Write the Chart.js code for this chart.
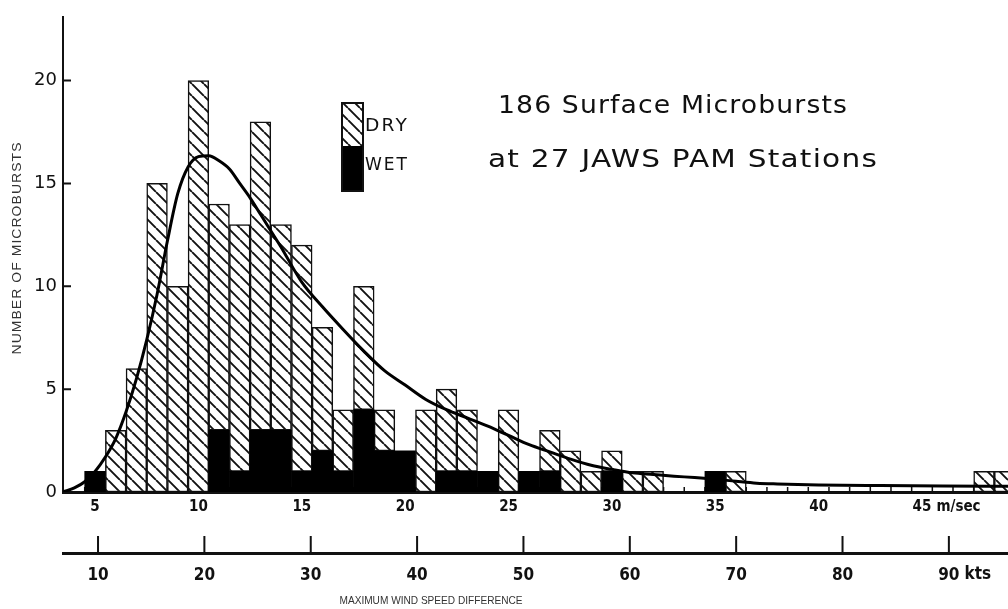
<!DOCTYPE html>
<html>
<head>
<meta charset="utf-8">
<title>Surface Microbursts</title>
<script src="https://cdn.jsdelivr.net/npm/chart.js@4.4.1/dist/chart.umd.min.js"></script>
<style>
  html, body { margin: 0; padding: 0; background: #fff; }
  #wrap { width: 1008px; height: 609px; position: relative; }
</style>
</head>
<body>
<div id="wrap"><canvas id="c" width="1008" height="609"></canvas></div>
<script>
// Maximum wind speed difference, 1 m/s bins (bin centres)
const windSpeedMs = [5, 6, 7, 8, 9, 10, 11, 12, 13, 14, 15, 16, 17, 18, 19, 20, 21, 22, 23, 24, 25, 26, 27,
  28, 29, 30, 31, 32, 33, 34, 35, 36, 37, 38, 39, 40, 41, 42, 43, 44, 45, 46, 47, 48, 49];
// Microbursts per bin, wet and dry
const wetCounts = [1, 0, 0, 0, 0, 0, 3, 1, 3, 3, 1, 2, 1, 4, 2, 2, 0, 1, 1, 1, 0, 1, 1,
  0, 0, 1, 0, 0, 0, 0, 1, 0, 0, 0, 0, 0, 0, 0, 0, 0, 0, 0, 0, 0, 0];
const dryCounts = [0, 3, 6, 15, 10, 20, 11, 12, 15, 10, 11, 6, 3, 6, 2, 0, 4, 4, 3, 0, 4, 0, 2,
  2, 1, 1, 1, 1, 0, 0, 0, 1, 0, 0, 0, 0, 0, 0, 0, 0, 0, 0, 0, 1, 1];

// Fitted frequency curve
const fitSpeedMs = [3.45, 4.0, 4.5, 5.0, 5.5, 6.0, 6.5, 7.0, 7.5, 8.0, 8.5, 9.0, 9.5, 10.0, 10.5, 11.0, 11.5,
  12.0, 12.5, 13.0, 13.5, 14.0, 15.0, 16.0, 17.0, 18.0, 19.0, 20.0, 21.0, 22.0, 23.0, 24.0, 25.0, 26.0,
  27.0, 28.0, 29.0, 30.0, 31.0, 32.0, 33.0, 34.0, 35.0, 36.0, 37.0, 38.0, 40.0, 43.0, 46.0, 49.2];
const fitCounts = [0.0, 0.2, 0.5, 1.0, 1.7, 2.6, 3.9, 5.5, 7.4, 9.6, 12.2, 14.5, 15.8, 16.3, 16.35, 16.1, 15.7,
  15.0, 14.3, 13.5, 12.7, 11.9, 10.2, 9.0, 7.9, 6.85, 5.9, 5.2, 4.5, 4.0, 3.6, 3.2, 2.75, 2.3,
  1.95, 1.6, 1.3, 1.1, 0.93, 0.85, 0.77, 0.70, 0.62, 0.52, 0.43, 0.39, 0.34, 0.31, 0.29, 0.28];

// Axis ticks
const yTicks = [0, 5, 10, 15, 20];
const msTicks = [5, 10, 15, 20, 25, 30, 35, 40, 45];
const ktsTicks = [10, 20, 30, 40, 50, 60, 70, 80, 90];
const binEdgesMs = [];
for (let i = 0; i < windSpeedMs.length; i++) binEdgesMs.push(windSpeedMs[i] - 0.5);
binEdgesMs.push(windSpeedMs[windSpeedMs.length - 1] + 0.5);

const MS_PER_KT = 0.514444;
const X_MIN = 3.45, X_MAX = 49.16;

const titleLines = ['186 Surface Microbursts', 'at 27 JAWS PAM Stations'];

const canvas = document.getElementById('c');
const ctx = canvas.getContext('2d');

function makeHatch(target) {
  const s = 12;
  const c = document.createElement('canvas');
  c.width = s; c.height = s;
  const g = c.getContext('2d');
  g.fillStyle = '#ffffff';
  g.fillRect(0, 0, s, s);
  g.strokeStyle = '#111111';
  g.lineWidth = 1.9;
  g.beginPath();
  for (let k = -1; k <= 1; k++) { g.moveTo(k * s, 0); g.lineTo(k * s + s, s); }
  g.stroke();
  return target.createPattern(c, 'repeat');
}
const hatch = makeHatch(ctx);

function fitText(g, text, cx, cy, width, font, spacing) {
  g.save();
  g.font = font;
  g.letterSpacing = (spacing || 0) + 'px';
  const w = g.measureText(text).width;
  g.translate(cx, cy);
  g.scale(width / w, 1);
  g.textAlign = 'center';
  g.textBaseline = 'middle';
  g.fillText(text, 0, 0);
  g.restore();
}

const NARROW = '"Liberation Sans Narrow", "DejaVu Sans Condensed", "Liberation Sans", sans-serif';

const decorations = {
  id: 'decorations',
  beforeDatasetsDraw(chart) {
    const g = chart.ctx;
    const x = chart.scales.x;
    g.save();
    g.strokeStyle = '#111';
    g.lineWidth = 1.5;
    g.beginPath();
    // bin boundary marks along the m/s axis
    binEdgesMs.forEach(v => {
      const px = x.getPixelForValue(v);
      if (px < chart.chartArea.left || px > chart.chartArea.right) return;
      g.moveTo(px, x.top); g.lineTo(px, x.top - 5);
    });
    g.stroke();
    g.restore();
  },
  afterDraw(chart) {
    const g = chart.ctx;
    const x = chart.scales.x, x2 = chart.scales.x2, y = chart.scales.y;
    const area = chart.chartArea;
    g.save();
    g.fillStyle = '#111';
    g.strokeStyle = '#111';

    // inner tick marks on the count axis
    g.lineWidth = 2;
    g.beginPath();
    yTicks.forEach(v => {
      if (v === 0) return;
      const py = y.getPixelForValue(v);
      g.moveTo(area.left, py); g.lineTo(area.left + 8, py);
    });
    g.stroke();

    // upward tick marks on the knots axis
    g.lineWidth = 2;
    g.beginPath();
    ktsTicks.forEach(k => {
      const px = x2.getPixelForValue(k * MS_PER_KT);
      g.moveTo(px, x2.top); g.lineTo(px, x2.top - 17);
    });
    g.stroke();

    // unit suffixes
    g.textBaseline = 'middle';
    g.textAlign = 'left';
    g.font = 'bold 15px ' + NARROW;
    const last = msTicks[msTicks.length - 1];
    const lw = g.measureText(String(last)).width;
    g.fillText('m/sec', x.getPixelForValue(last) + lw / 2 + 5, 507);
    g.font = 'bold 17px ' + NARROW;
    const lastK = ktsTicks[ktsTicks.length - 1];
    const kw = g.measureText(String(lastK)).width;
    g.fillText('kts', x2.getPixelForValue(lastK * MS_PER_KT) + kw / 2 + 5, 575);

    // axis titles
    g.fillStyle = '#333';
    fitText(g, 'MAXIMUM WIND SPEED DIFFERENCE', 431, 601, 183, '11px "Liberation Sans", sans-serif', 0);
    g.save();
    g.translate(17, 248);
    g.rotate(-Math.PI / 2);
    fitText(g, 'NUMBER OF MICROBURSTS', 0, 0, 213, '13px "Liberation Sans", sans-serif', 1);
    g.restore();

    // chart title
    g.fillStyle = '#111';
    fitText(g, titleLines[0], 673, 107, 350, '24px "DejaVu Sans", sans-serif', 1);
    fitText(g, titleLines[1], 683, 161, 390, '24px "DejaVu Sans", sans-serif', 1);

    // legend
    const lx = 342, lw2 = 21, top = 103, mid = 146, bot = 191;
    g.fillStyle = hatch;
    g.fillRect(lx, top, lw2, mid - top);
    g.fillStyle = '#000';
    g.fillRect(lx, mid, lw2, bot - mid);
    g.lineWidth = 2;
    g.strokeRect(lx, top, lw2, bot - top);
    g.fillStyle = '#111';
    fitText(g, chart.data.datasets[2].label, lx + lw2 + 24, 127, 44, '17px "DejaVu Sans", sans-serif', 2);
    fitText(g, chart.data.datasets[1].label, lx + lw2 + 24, 166, 44, '17px "DejaVu Sans", sans-serif', 2);
    g.restore();
  }
};

new Chart(ctx, {
  type: 'bar',
  data: {
    datasets: [
      {
        type: 'line',
        label: 'fit',
        data: fitSpeedMs.map((v, i) => ({ x: v, y: fitCounts[i] })),
        borderColor: '#000',
        borderWidth: 3,
        pointRadius: 0,
        fill: false,
        cubicInterpolationMode: 'monotone',
        stack: 'fit',
        order: 1
      },
      {
        label: 'WET',
        data: windSpeedMs.map((v, i) => ({ x: v, y: wetCounts[i] })),
        backgroundColor: '#000',
        borderColor: '#000',
        borderWidth: 0,
        stack: 'obs',
        order: 2
      },
      {
        label: 'DRY',
        data: windSpeedMs.map((v, i) => ({ x: v, y: dryCounts[i] })),
        backgroundColor: hatch,
        borderColor: '#111',
        borderWidth: 1.5,
        borderSkipped: false,
        stack: 'obs',
        order: 3
      }
    ]
  },
  options: {
    responsive: false,
    animation: false,
    devicePixelRatio: 1,
    layout: { padding: { top: 13, left: 0, right: 0, bottom: 0 } },
    datasets: { bar: { barPercentage: 1, categoryPercentage: 1 } },
    plugins: { legend: { display: false }, tooltip: { enabled: false }, title: { display: false } },
    scales: {
      x: {
        type: 'linear', position: 'bottom', min: X_MIN, max: X_MAX, bounds: 'data', stacked: true, offset: false,
        grid: { display: false, drawTicks: false },
        border: { display: true, color: '#111', width: 3 },
        afterBuildTicks: s => { s.ticks = msTicks.map(v => ({ value: v })); },
        ticks: { color: '#111', font: { family: NARROW, size: 15, weight: 'bold' }, padding: 6, autoSkip: false, maxRotation: 0,
                 callback: v => String(v) },
        afterFit: s => { s.height = 61; }
      },
      // knots scale shares the m/s range; tick positions are the knot values converted to m/s
      x2: {
        type: 'linear', position: 'bottom', min: X_MIN, max: X_MAX, bounds: 'data', offset: false,
        grid: { display: false, drawTicks: false },
        border: { display: true, color: '#111', width: 3 },
        afterBuildTicks: s => { s.ticks = ktsTicks.map(k => ({ value: k * MS_PER_KT })); },
        ticks: { color: '#111', font: { family: NARROW, size: 17, weight: 'bold' }, padding: 12, autoSkip: false, maxRotation: 0,
                 callback: (v, i) => String(ktsTicks[i]) },
        afterFit: s => { s.height = 56; }
      },
      y: {
        type: 'linear', min: 0, max: 23.1, stacked: true,
        grid: { display: false, drawTicks: false },
        border: { display: true, color: '#111', width: 2 },
        afterBuildTicks: s => { s.ticks = yTicks.map(v => ({ value: v })); },
        ticks: { color: '#111', font: { family: '"DejaVu Sans", sans-serif', size: 18 }, padding: 6, callback: v => String(v) },
        afterFit: s => { s.width = 63; }
      }
    }
  },
  plugins: [decorations]
});
</script>
</body>
</html>
